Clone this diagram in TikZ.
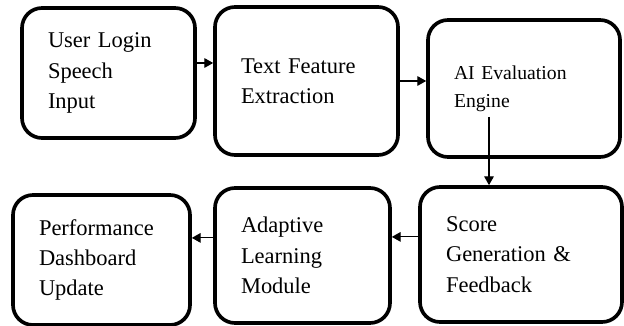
\documentclass[tikz,border=0pt]{standalone}
\usepackage{fontspec}
\setmainfont{Liberation Serif}
\usetikzlibrary{arrows.meta, calc}

\begin{document}
\begin{tikzpicture}[
  stage/.style = {draw, line width=2.6pt, rounded corners=0.5cm, align=left,
                  inner xsep=0.65cm, font=\fontsize{16}{21.5}\selectfont},
  arrow/.style = {line width=0.8pt, -{Triangle[length=2.2mm, width=2.4mm]}},
  every node/.style = {font=\small}
]

% Fixed frame
\useasboundingbox (0,0) rectangle (15.6,8.15);

% Top row
\node[stage, text width=3.025cm, minimum height=3.25cm] (login) at (2.7125,6.325)
  {User Login\\Speech\\Input};
\node[stage, text width=3.275cm, minimum height=3.7cm] (feature) at (7.6625,6.125)
  {Text Feature\\Extraction};
\node[stage, text width=3.5cm, minimum height=3.425cm,
      font=\fontsize{14}{20}\selectfont] (evaluation) at (13.1,5.9375)
  {AI Evaluation\\Engine};

% Bottom row
\node[stage, text width=3.75cm, minimum height=3.375cm] (score) at (13.025,1.7875)
  {Score\\Generation \&\\Feedback};
\node[stage, text width=3.075cm, minimum height=3.375cm] (adaptive) at (7.5625,1.7625)
  {Adaptive\\Learning\\Module};
\node[stage, text width=3.125cm, minimum height=3.25cm] (dashboard) at (2.5375,1.65)
  {Performance\\Dashboard\\Update};

% Connectors
\draw[arrow] ([yshift=0.25cm]login.east) -- ([yshift=0.25cm]login.east -| feature.west);
\draw[arrow] (feature.east) -- (feature.east -| evaluation.west);
\coordinate (drop) at ($(evaluation.south)+(-0.875,1.05)$);
\draw[arrow] (drop) -- (drop |- score.north);
\draw[arrow] ([yshift=0.44cm]score.west) -- ([yshift=0.44cm]score.west -| adaptive.east);
\draw[arrow] ([yshift=0.44cm]adaptive.west) -- ([yshift=0.44cm]adaptive.west -| dashboard.east);

\end{tikzpicture}
\end{document}
